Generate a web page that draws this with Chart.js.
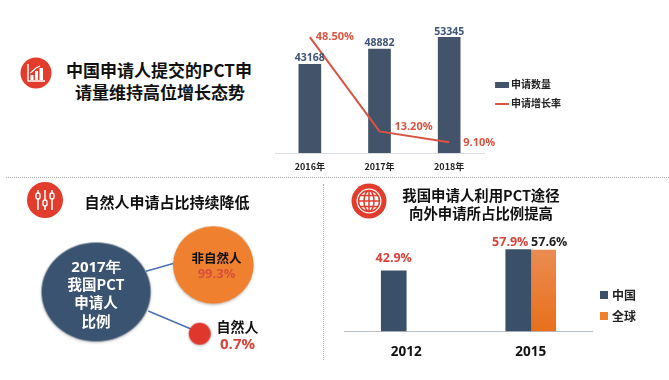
<!DOCTYPE html>
<html lang="zh">
<head>
<meta charset="utf-8">
<script src="https://cdn.jsdelivr.net/npm/chart.js@4"></script>
<style>
html,body{margin:0;padding:0;background:#fff;width:669px;height:380px;overflow:hidden}
body{position:relative;font-family:"Noto Sans CJK SC","Noto Sans",sans-serif}
canvas{position:absolute;display:block}
.t{position:absolute;transform:translate(-50%,-50%);white-space:nowrap;font-weight:700;line-height:1}
.hr{position:absolute;left:6px;right:0;top:177px;border-top:1px dotted #a9a9a9}
.vr{position:absolute;left:323px;top:184px;height:176px;border-left:1px dotted #a9a9a9}
svg{position:absolute}
</style>
</head>
<body>
<div class="hr"></div><div class="vr"></div>

<svg style="left:20px;top:57px" width="32" height="32" viewBox="0 0 32 32">
<circle cx="16" cy="16" r="15.5" fill="#e23c2c"/>
<path d="M8 7V24H25" fill="none" stroke="#fff" stroke-width="1.4"/>
<path d="M10.5 16L16 11L20 9" fill="none" stroke="#fff" stroke-width="1.2"/>
<rect x="10.5" y="18" width="3" height="5" fill="#fff"/><rect x="15" y="14" width="3" height="9" fill="#fff"/><rect x="19.5" y="11" width="3.5" height="12" fill="#fff"/>
</svg>
<svg style="left:27px;top:182px" width="36" height="36" viewBox="0 0 36 36">
<circle cx="18" cy="18" r="18" fill="#e23c2c"/>
<g fill="none" stroke="#fff" stroke-width="1.5">
<path d="M11 8V28M18 8V28M25 8V28"/></g>
<g fill="#e23c2c" stroke="#fff" stroke-width="1.4">
<rect x="9" y="11" width="4" height="6" rx="2"/><rect x="16" y="18" width="4" height="6" rx="2"/><rect x="23" y="11" width="4" height="6" rx="2"/></g>
</svg>
<svg style="left:351px;top:183px" width="36" height="36" viewBox="0 0 36 36">
<circle cx="18" cy="18" r="17.5" fill="#e23c2c"/>
<circle cx="18" cy="18" r="12.5" fill="#fff"/>
<g fill="none" stroke="#e23c2c" stroke-width="1.5">
<circle cx="18" cy="18" r="10.5"/><ellipse cx="18" cy="18" rx="5" ry="10.5"/>
<path d="M18 7.5V28.5M7.5 18H28.5M9 12.5H27M9 23.5H27"/></g>
</svg>

<canvas id="c3" width="323" height="200" style="left:0;top:180px"></canvas>
<canvas id="c1" width="296" height="188" style="left:274.5px;top:0"></canvas>
<canvas id="c2" width="302" height="149" style="left:344px;top:231px"></canvas>

<div class="t" style="left:159px;top:69px;font-size:17px;color:#111">中国申请人提交的PCT申</div>
<div class="t" style="left:160px;top:91px;font-size:17px;color:#111">请量维持高位增长态势</div>
<div class="t" style="left:167px;top:200.5px;font-size:15px;color:#111">自然人申请占比持续降低</div>
<div class="t" style="left:481px;top:195px;font-size:14.4px;color:#111">我国申请人利用PCT途径</div>
<div class="t" style="left:481px;top:213px;font-size:14.4px;color:#111">向外申请所占比例提高</div>
<div id="bubbleText"></div>

<script>
// top chart
const years = ['2016年', '2017年', '2018年'];
const applications = [43168, 48882, 53345];
const growthRates = [48.5, 13.2, 9.1];
const topSeriesNames = ['申请数量', '申请增长率'];
// bottom-right chart
const periods = ['2012', '2015'];
const chinaShare = [42.9, 57.9];
const globalShare = [null, 57.6];
const shareSeriesNames = ['中国', '全球'];
// bottom-left diagram
const hubLines = ['2017年', '我国PCT', '申请人', '比例'];
const applicantKinds = ['非自然人', '自然人'];
const applicantShares = [99.3, 0.7];

const NAVY = '#435369', SLATE = '#3a5068', RED = '#dc5440', ORANGE = '#ee8030';
const CJK = '"Noto Sans CJK SC","Noto Sans",sans-serif';
const LATIN = '"Open Sans","Noto Sans",sans-serif';

Chart.defaults.animation = false;
Chart.defaults.responsive = false;
Chart.defaults.plugins.tooltip.enabled = false;

function swatch(w, h, color, lead) {
  const c = document.createElement('canvas');
  c.width = w + (lead || 0); c.height = h;
  const x = c.getContext('2d');
  x.fillStyle = color; x.fillRect(lead || 0, 0, w, h);
  return c;
}

const valueLabels = {
  id: 'valueLabels',
  afterDatasetsDraw(chart, args, opts) {
    const ctx = chart.ctx;
    ctx.save();
    ctx.textAlign = 'center';
    ctx.textBaseline = 'middle';
    opts.sets.forEach(s => {
      const meta = chart.getDatasetMeta(s.index);
      chart.data.datasets[s.index].data.forEach((v, i) => {
        if (v === null) return;
        const el = meta.data[i];
        const off = s.offsets[i];
        ctx.font = s.font;
        ctx.fillStyle = s.color;
        ctx.fillText(s.format(v), el.x + off[0], el.y + off[1]);
      });
    });
    ctx.restore();
  }
};

function legendOpts(names, styles, font, box, pad) {
  return {
    position: 'right',
    labels: {
      usePointStyle: true,
      pointStyleWidth: box,
      boxWidth: box,
      boxHeight: 6,
      padding: pad,
      color: '#222',
      font: font,
      generateLabels: () => names.map((n, i) => ({
        text: n, pointStyle: styles[i], datasetIndex: i, fontColor: '#222',
        lineWidth: 0, hidden: false
      }))
    }
  };
}

new Chart(document.getElementById('c1'), {
  type: 'bar',
  plugins: [valueLabels],
  data: {
    labels: years,
    datasets: [
      { label: topSeriesNames[0], data: applications, yAxisID: 'y', order: 2,
        backgroundColor: NAVY, borderWidth: 0, barThickness: 22 },
      { type: 'line', label: topSeriesNames[1], data: growthRates, yAxisID: 'y2', order: 1,
        borderColor: RED, borderWidth: 2, pointRadius: 0, tension: 0, fill: false }
    ]
  },
  options: {
    layout: { padding: 0 },
    scales: {
      x: {
        grid: { display: false }, border: { color: '#d9dce0', width: 1 },
        ticks: { color: '#222', padding: 0, font: { family: CJK, size: 9, weight: 'bold' } },
        afterFit: s => { s.height = 35; }
      },
      y: { display: false, min: 9734, max: 67405 },
      y2: { display: false, min: 5.1, max: 62.4 }
    },
    plugins: {
      legend: legendOpts(topSeriesNames, [swatch(14, 6, NAVY, 5), swatch(14, 2, RED, 5)],
        { family: CJK, size: 10, weight: 'bold' }, 13, 9),
      valueLabels: { sets: [
        { index: 0, font: 'bold 10.5px ' + LATIN, color: '#3c5478', format: v => String(v),
          offsets: [[0, -6], [0, -6.5], [0, -5.5]] },
        { index: 1, font: 'bold 11px ' + LATIN, color: RED, format: v => v.toFixed(2) + '%',
          offsets: [[25, 0], [34, -5], [30, 1]] }
      ] }
    }
  }
});

new Chart(document.getElementById('c2'), {
  type: 'bar',
  plugins: [valueLabels],
  data: {
    labels: periods,
    datasets: [
      { label: shareSeriesNames[0], data: chinaShare, backgroundColor: SLATE, barThickness: 25, barPercentage: 1 },
      { label: shareSeriesNames[1], data: globalShare, barThickness: 25, barPercentage: 1,
        backgroundColor: c => {
          const a = c.chart.chartArea;
          if (!a) return ORANGE;
          const g = c.chart.ctx.createLinearGradient(0, a.top + 18, 0, a.bottom);
          g.addColorStop(0, '#ea8c52'); g.addColorStop(1, '#e8701c');
          return g;
        } }
    ]
  },
  options: {
    layout: { padding: 0 },
    scales: {
      x: {
        grid: { display: false }, border: { color: '#b9c0c8', width: 1 },
        ticks: { color: '#111', padding: 5, font: { family: LATIN, size: 13.5, weight: 'bold' } },
        afterFit: s => { s.height = 48.7; }
      },
      y: { display: false, min: 0, max: 71.1 }
    },
    plugins: {
      legend: legendOpts(shareSeriesNames, [swatch(8, 8, SLATE), swatch(8, 8, ORANGE)],
        { family: CJK, size: 12, weight: 'bold' }, 4, 9),
      valueLabels: { sets: [
        { index: 0, font: 'bold 12.5px ' + LATIN, color: '#d8433a', format: v => v.toFixed(1) + '%',
          offsets: [[0, -12.7], [-8, -7.6]] },
        { index: 1, font: 'bold 12.5px ' + LATIN, color: '#222', format: v => v.toFixed(1) + '%',
          offsets: [[0, 0], [6, -7.6]] }
      ] }
    }
  }
});

function ellipse(rx, ry, color) {
  const m = 5, c = document.createElement('canvas');
  c.width = 2 * (rx + m); c.height = 2 * (ry + m);
  const x = c.getContext('2d');
  x.shadowColor = 'rgba(0,0,0,.28)'; x.shadowBlur = 3; x.shadowOffsetY = 1;
  x.fillStyle = color;
  x.beginPath(); x.ellipse(rx + m, ry + m, rx, ry, 0, 0, Math.PI * 2); x.fill();
  return c;
}

// diagram nodes and connectors, in the chart's own 0..323 / 0..200 coordinates
const nodeCentres = [{ x: 96, y: 112, r: 52 }, { x: 213, y: 84.7, r: 39 }, { x: 199.7, y: 153.7, r: 11 }];
const linkToOuter = [{ x: 146, y: 91.3 }, { x: 175, y: 83 }];
const linkToInner = [{ x: 148.3, y: 131 }, { x: 191, y: 149 }];

new Chart(document.getElementById('c3'), {
  type: 'bubble',
  data: {
    datasets: [
      { type: 'line', data: linkToOuter, borderColor: '#4a70b8', borderWidth: 1.5, pointRadius: 0, order: 2 },
      { type: 'line', data: linkToInner, borderColor: '#4a70b8', borderWidth: 1.5, pointRadius: 0, order: 2 },
      { data: nodeCentres, order: 1, borderWidth: 0, clip: false,
        pointStyle: [ellipse(54.6, 49.5, '#3a5370'), ellipse(40.3, 38.7, ORANGE), ellipse(11, 11, '#e0372c')] }
    ]
  },
  options: {
    layout: { padding: 0, autoPadding: false },
    scales: {
      x: { type: 'linear', display: false, min: 0, max: 323 },
      y: { display: false, min: 0, max: 200, reverse: true }
    },
    plugins: { legend: { display: false } }
  }
});

const bubbleText = [
  [hubLines[0], 96, 266, 15, '#fff', LATIN],
  [hubLines[1], 96, 283.5, 14.5, '#fff', CJK],
  [hubLines[2], 96, 302, 14.5, '#fff', CJK],
  [hubLines[3], 96, 321, 14.5, '#fff', CJK],
  [applicantKinds[0], 216.5, 258, 12.5, '#111', CJK],
  [applicantShares[0].toFixed(1) + '%', 216.5, 273, 13, '#d8503c', LATIN],
  [applicantKinds[1], 237.5, 326, 14, '#111', CJK],
  [applicantShares[1].toFixed(1) + '%', 237.5, 342.5, 15, '#d8433a', LATIN]
];
const holder = document.getElementById('bubbleText');
bubbleText.forEach(([s, x, y, size, color, fam]) => {
  const d = document.createElement('div');
  d.className = 't';
  d.textContent = s;
  d.style.cssText = `left:${x}px;top:${y}px;font-size:${size}px;color:${color};font-family:${fam.replace(/"/g, "'")}`;
  holder.appendChild(d);
});
</script>
</body>
</html>
